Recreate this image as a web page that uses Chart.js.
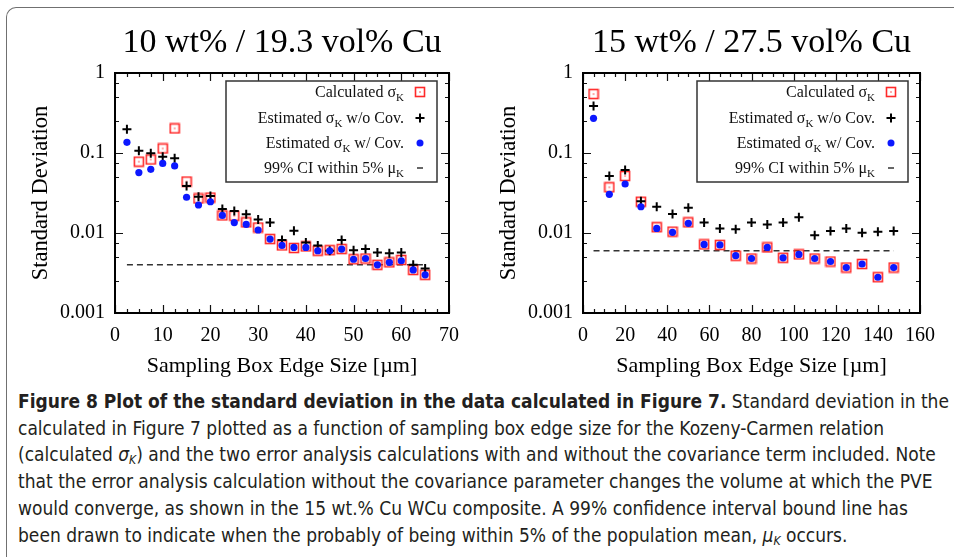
<!DOCTYPE html>
<html>
<head>
<meta charset="utf-8">
<script src="https://cdn.jsdelivr.net/npm/chart.js@4.4.1/dist/chart.umd.min.js"></script>
<style>
  body { margin: 0; background: #fff; width: 954px; height: 557px; overflow: hidden; position: relative; }
  .frame { position: absolute; left: 6px; top: 7px; width: 1200px; height: 800px;
           border-left: 1.5px solid #707070; border-top: 1.5px solid #707070; border-top-left-radius: 10px; }
  #leftChart { position: absolute; left: 0; top: 0; }
  #rightChart { position: absolute; left: 468px; top: 0; }
  .caption { position: absolute; left: 18px; top: 388px; color: #231f20; white-space: nowrap;
             font-family: "Liberation Sans Narrow", "DejaVu Sans Condensed", sans-serif;
             font-size: 19px; line-height: 26.7px; }
  .caption i { font-style: italic; }
  .caption sub { font-size: 12px; vertical-align: -3px; line-height: 0; }
</style>
</head>
<body>
<div class="frame"></div>
<canvas id="leftChart" width="470" height="380"></canvas>
<canvas id="rightChart" width="486" height="380"></canvas>
<div class="caption">
  <div><b>Figure 8 Plot of the standard deviation in the data calculated in Figure 7.</b> Standard deviation in the data</div>
  <div>calculated in Figure 7 plotted as a function of sampling box edge size for the Kozeny-Carmen relation</div>
  <div>(calculated <i>σ<sub>K</sub></i>) and the two error analysis calculations with and without the covariance term included. Note</div>
  <div>that the error analysis calculation without the covariance parameter changes the volume at which the PVE</div>
  <div>would converge, as shown in the 15 wt.% Cu WCu composite. A 99% confidence interval bound line has</div>
  <div>been drawn to indicate when the probably of being within 5% of the population mean, <i>μ<sub>K</sub></i> occurs.</div>
</div>
<script>
// 10 wt% / 19.3 vol% Cu
const leftX = [2.5, 5, 7.5, 10, 12.5, 15, 17.5, 20, 22.5, 25, 27.5, 30, 32.5, 35, 37.5, 40, 42.5, 45, 47.5, 50, 52.5, 55, 57.5, 60, 62.5, 65];
const leftCalc = [null, 0.078, 0.083, 0.114, 0.203, 0.044, 0.027, 0.0277, 0.0166, 0.0164, 0.0136, 0.0117, 0.0084, 0.0070, 0.0065, 0.0068, 0.0060, 0.0061, 0.0063, 0.0047, 0.0048, 0.0040, 0.0043, 0.0046, 0.00345, 0.0030];
const leftNoCov = [0.198, 0.107, 0.099, 0.090, 0.086, 0.0387, 0.0284, 0.029, 0.020, 0.0189, 0.0171, 0.0148, 0.0135, 0.0082, 0.0107, 0.0076, 0.0070, 0.0060, 0.0082, 0.0061, 0.0063, 0.0057, 0.0056, 0.0057, 0.0040, 0.0036];
const leftCov = [0.136, 0.057, 0.0625, 0.074, 0.069, 0.028, 0.0224, 0.0246, 0.0166, 0.0135, 0.0128, 0.0109, 0.0084, 0.0070, 0.0066, 0.0066, 0.0060, 0.0060, 0.0063, 0.0047, 0.0048, 0.0040, 0.0043, 0.0045, 0.00345, 0.0030];
const leftCiX = [2.5, 65];
const leftCiY = [0.004, 0.004];

// 15 wt% / 27.5 vol% Cu
const rightX = [5, 12.5, 20, 27.5, 35, 42.5, 50, 57.5, 65, 72.5, 80, 87.5, 95, 102.5, 110, 117.5, 125, 132.5, 140, 147.5];
const rightCalc = [0.546, 0.0373, 0.0516, 0.0246, 0.0118, 0.0104, 0.0136, 0.0072, 0.0071, 0.0052, 0.0048, 0.0066, 0.0049, 0.0054, 0.0048, 0.0044, 0.0037, 0.0041, 0.0028, 0.0037];
const rightNoCov = [0.387, 0.0516, 0.0613, 0.025, 0.0213, 0.0173, 0.0207, 0.0135, 0.0114, 0.0111, 0.0135, 0.0128, 0.0135, 0.0157, 0.0094, 0.0106, 0.0114, 0.0101, 0.0104, 0.0106];
const rightCov = [0.271, 0.0304, 0.041, 0.0213, 0.0114, 0.0102, 0.0132, 0.0072, 0.0071, 0.0052, 0.0048, 0.0066, 0.0049, 0.0054, 0.0048, 0.0044, 0.0037, 0.0041, 0.0028, 0.0037];
const rightCiX = [5, 147.5];
const rightCiY = [0.006, 0.006];

// axes
const yMajor = [0.001, 0.01, 0.1, 1];
const yMinorFactors = [2.5, 5, 7.5];
const legendLabels = [
  [{ t: "Calculated σ" }, { t: "K", sub: true }],
  [{ t: "Estimated σ" }, { t: "K", sub: true }, { t: " w/o Cov." }],
  [{ t: "Estimated σ" }, { t: "K", sub: true }, { t: " w/ Cov." }],
  [{ t: "99% CI within 5% μ" }, { t: "K", sub: true }],
];

const serif = "'Liberation Serif', 'Times New Roman', serif";
const blue = "rgb(12, 24, 255)";

function toPoints(xs, ys) {
  return xs.map((x, i) => ({ x: x, y: ys[i] }));
}

// red open square with a dot in the middle (gnuplot style)
function makeSquare() {
  const c = document.createElement("canvas");
  c.width = 12;
  c.height = 12;
  const g = c.getContext("2d");
  g.strokeStyle = "rgba(255, 30, 30, 0.95)";
  g.lineWidth = 1.6;
  g.strokeRect(1.5, 1.5, 9, 9);
  g.fillStyle = "rgba(255, 40, 40, 0.8)";
  g.fillRect(5.3, 5.3, 1.4, 1.4);
  return c;
}
const squareImg = makeSquare();

const frameTicks = {
  id: "frameTicks",
  afterDatasetsDraw(chart) {
    const { ctx, chartArea: a, scales } = chart;
    const cfg = chart.options.plugins.frameTicks;
    const x = scales.x, y = scales.y;
    ctx.save();
    ctx.strokeStyle = "#111";
    ctx.lineWidth = 1.2;
    ctx.beginPath();
    for (let v = 0; v <= cfg.xMax + 1e-9; v += cfg.xMinorStep) {
      const px = Math.round(x.getPixelForValue(v)) + 0.5;
      const major = Math.abs(v / cfg.xMajorStep - Math.round(v / cfg.xMajorStep)) < 1e-6;
      const len = major ? 8 : 4;
      ctx.moveTo(px, a.bottom); ctx.lineTo(px, a.bottom - len);
      ctx.moveTo(px, a.top); ctx.lineTo(px, a.top + len);
    }
    yMajor.forEach((d, i) => {
      const py = Math.round(y.getPixelForValue(d)) + 0.5;
      ctx.moveTo(a.left, py); ctx.lineTo(a.left + 8, py);
      ctx.moveTo(a.right, py); ctx.lineTo(a.right - 8, py);
      if (i < yMajor.length - 1) {
        yMinorFactors.forEach(f => {
          const pm = Math.round(y.getPixelForValue(d * f)) + 0.5;
          ctx.moveTo(a.left, pm); ctx.lineTo(a.left + 4, pm);
          ctx.moveTo(a.right, pm); ctx.lineTo(a.right - 4, pm);
        });
      }
    });
    ctx.stroke();
    ctx.lineWidth = 2;
    ctx.strokeStyle = "#000";
    ctx.strokeRect(a.left, a.top, a.right - a.left, a.bottom - a.top);
    ctx.restore();
  }
};

const boxLegend = {
  id: "boxLegend",
  afterDraw(chart) {
    const { ctx, chartArea: a } = chart;
    const mainFont = "16px " + serif;
    const subFont = "11px " + serif;
    ctx.save();
    ctx.fillStyle = "#fff";
    ctx.fillRect(a.right - 223, a.top + 8, 211, 101);
    ctx.strokeStyle = "#333";
    ctx.lineWidth = 1.5;
    ctx.strokeRect(a.right - 223, a.top + 8, 211, 101);
    const rows = [19, 45, 70, 95];
    legendLabels.forEach((segs, i) => {
      const yy = a.top + rows[i];
      let w = 0;
      segs.forEach(s => { ctx.font = s.sub ? subFont : mainFont; w += ctx.measureText(s.t).width; });
      let xx = a.right - 45 - w;
      ctx.fillStyle = "#111";
      ctx.textBaseline = "alphabetic";
      segs.forEach(s => {
        ctx.font = s.sub ? subFont : mainFont;
        ctx.fillText(s.t, xx, yy + (s.sub ? 9 : 5));
        xx += ctx.measureText(s.t).width;
      });
      const mx = a.right - 29;
      if (i === 0) {
        ctx.drawImage(squareImg, mx - 6, yy - 6);
      } else if (i === 1) {
        ctx.strokeStyle = "#000"; ctx.lineWidth = 2;
        ctx.beginPath();
        ctx.moveTo(mx - 4.5, yy); ctx.lineTo(mx + 4.5, yy);
        ctx.moveTo(mx, yy - 4.5); ctx.lineTo(mx, yy + 4.5);
        ctx.stroke();
      } else if (i === 2) {
        ctx.fillStyle = blue;
        ctx.beginPath(); ctx.arc(mx, yy, 3.5, 0, Math.PI * 2); ctx.fill();
      } else {
        ctx.strokeStyle = "#333"; ctx.lineWidth = 1.5;
        ctx.beginPath(); ctx.moveTo(mx - 3, yy); ctx.lineTo(mx + 3, yy); ctx.stroke();
      }
    });
    ctx.restore();
  }
};

function buildChart(id, o) {
  return new Chart(document.getElementById(id), {
    type: "scatter",
    data: {
      datasets: [
        { type: "line", data: toPoints(o.ciX, o.ciY), borderColor: "#333", borderWidth: 1.5,
          borderDash: [6, 4], pointRadius: 0, fill: false, order: 4 },
        { data: toPoints(o.x, o.calc), pointStyle: squareImg, order: 3 },
        { data: toPoints(o.x, o.noCov), pointStyle: "cross", pointRadius: 4.5,
          borderColor: "#000", borderWidth: 2, order: 2 },
        { data: toPoints(o.x, o.cov), pointStyle: "circle", pointRadius: 3.6,
          backgroundColor: blue, borderColor: blue, borderWidth: 0, order: 1 },
      ],
    },
    options: {
      responsive: false,
      animation: false,
      events: [],
      layout: { padding: { left: 0, right: o.padRight, top: 0, bottom: 0 } },
      plugins: {
        legend: { display: false },
        tooltip: { enabled: false },
        title: {
          display: true,
          fullSize: false,
          text: o.title,
          color: "#000",
          font: { family: serif, size: 34, weight: "normal", lineHeight: 1 },
          padding: { top: 26, bottom: 13 },
        },
        frameTicks: { xMax: o.xMax, xMajorStep: o.xStep, xMinorStep: o.xMinorStep },
      },
      scales: {
        x: {
          type: "linear",
          min: 0,
          max: o.xMax,
          grid: { display: false, drawTicks: false },
          border: { display: false },
          ticks: { stepSize: o.xStep, color: "#000", font: { family: serif, size: 20 }, padding: 11, maxRotation: 0 },
          title: { display: true, text: "Sampling Box Edge Size [µm]", color: "#000",
                   font: { family: serif, size: 22 }, padding: { top: 2, bottom: 1 } },
          afterFit: s => { s.height = 67; },
        },
        y: {
          type: "logarithmic",
          min: 0.001,
          max: 1,
          grid: { display: false, drawTicks: false },
          border: { display: false },
          afterBuildTicks: s => { s.ticks = yMajor.map(v => ({ value: v })); },
          ticks: { color: "#000", font: { family: serif, size: 20 }, padding: 10, callback: v => String(v) },
          title: { display: true, text: "Standard Deviation", color: "#000",
                   font: { family: serif, size: 22.5 }, padding: { top: 28, bottom: 0 } },
          afterFit: s => { s.width = 115; },
        },
      },
    },
    plugins: [frameTicks, boxLegend],
  });
}

buildChart("leftChart", {
  title: "10 wt% / 19.3 vol% Cu",
  x: leftX, calc: leftCalc, noCov: leftNoCov, cov: leftCov,
  ciX: leftCiX, ciY: leftCiY,
  xMax: 70, xStep: 10, xMinorStep: 2.5, padRight: 18,
});

buildChart("rightChart", {
  title: "15 wt% / 27.5 vol% Cu",
  x: rightX, calc: rightCalc, noCov: rightNoCov, cov: rightCov,
  ciX: rightCiX, ciY: rightCiY,
  xMax: 160, xStep: 20, xMinorStep: 5, padRight: 34,
});
</script>
</body>
</html>
